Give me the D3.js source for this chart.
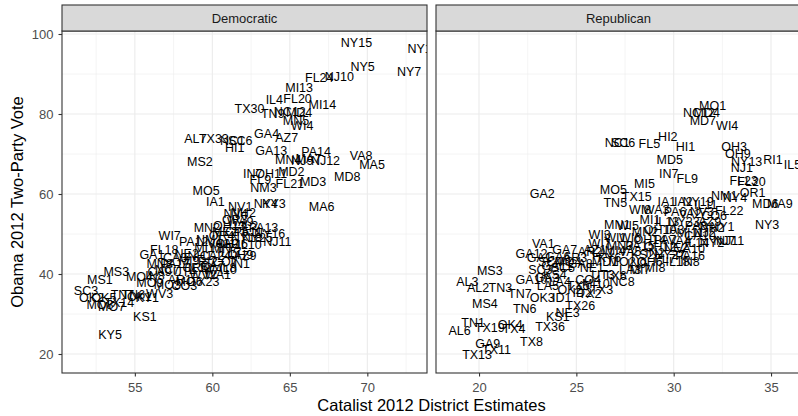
<!DOCTYPE html>
<html>
<head>
<meta charset="utf-8">
<script src="https://cdn.jsdelivr.net/npm/d3@7/dist/d3.min.js"></script>
<style>
  body { margin: 0; background: #fff; }
  text { font-family: "Liberation Sans", Arial, Helvetica, sans-serif; }
</style>
</head>
<body>
<svg id="chart" width="798" height="416"></svg>
<script>
// Facet names and axis ticks
const panelNames = ["Democratic", "Republican"];
const demTicks = [55, 60, 65, 70];
const repTicks = [20, 25, 30, 35];
const yTicks = [20, 40, 60, 80, 100];

// Democratic districts: label, Catalist estimate, Obama two-party vote
const demLabels = ["NY15","NY13","NY5","NY7","FL24","NJ10","MI13","IL4","FL20","MI14","TX30","TN9","NC12","MD4","MN5","WI4","GA4","AZ7","AL7","TX33","NC1","SC6","HI1","GA13","PA14","MS2","MN4","NJ9","MA7","NJ12","VA8","MA5","IN7","OH11","MD2","FL9","FL21","MD3","MD8","NM3","MO5","IA1","NY4","KY3","MA6","NV1","NH2","NV4","OR3","PA13","NY16","NJ11","IL2","WI7","MN2","PA12","NM1","OR4","IA2","NY18","CT5","MN7","GA1","NE2","NH1","CA24","IL17","AZ9","CO7","RI2","MI9","PA17","MN8","IN1","WA10","IL12","NC7","UT4","MS3","MS1","SC3","OK2","TN7","TN6","OK1","KY1","WV3","MO7","MO8","KS1","KY5","MO3","WV2","MO4","IN8","AR1","MO6","OH13","ME2","WA9","PA11","OH16","IL10","NY25","VA11","CA3","OR5","CA7","IL8","CA9","CO3","MO9","TX23","WA1","FL18","OH9","MI1","OK5","TX14"];
const demX = [69.3,73.6,69.7,72.7,66.9,68.2,65.6,64.0,65.5,67.1,62.4,63.9,65.0,65.6,65.4,65.8,63.5,64.8,58.9,60.1,61.3,61.8,61.45,63.8,66.7,59.2,64.9,65.8,66.2,67.3,69.6,70.3,62.6,63.8,65.1,63.1,65.0,66.5,68.7,63.3,59.6,60.2,63.45,63.97,67.05,61.8,62.0,61.5,61.45,63.3,63.7,64.2,62.4,57.25,59.65,58.8,59.8,60.6,61.1,62.2,61.6,60.8,56.1,58.35,59.2,60.2,61.1,62.1,60.8,59.7,58.5,57.6,56.6,61.8,60.5,59.2,57.1,58.2,53.8,52.75,51.85,52.2,54.2,54.9,55.3,55.8,56.6,53.5,52.75,55.65,53.4,57.1,59.4,55.3,56.3,57.9,58.5,61.1,60.8,61.8,62.3,61.25,62.4,62.9,60.6,57.6,58.9,60.0,61.0,56.6,58.2,55.97,59.5,60.35,56.9,61.8,59.5,53.0,54.0];
const demY = [97.8,96.3,91.8,90.5,89.0,89.3,86.7,83.7,83.8,82.3,81.3,80.0,80.5,80.3,78.3,77.0,75.2,74.2,73.75,73.75,73.25,73.25,71.5,70.75,70.5,68.0,68.5,68.25,68.75,68.25,69.5,67.25,65.0,65.0,65.5,63.5,62.5,63.0,64.25,61.5,60.75,58.0,57.5,57.5,56.8,56.75,55.25,55.0,53.5,51.5,50.0,48.0,52.0,49.5,51.5,48.0,48.5,49.5,47.5,49.0,50.5,46.25,44.75,45.0,44.5,44.5,45.25,44.5,43.0,43.0,43.25,42.5,42.5,42.5,41.0,41.5,41.0,40.5,40.5,38.5,35.75,34.0,34.75,34.75,34.25,34.0,35.0,31.75,32.25,29.25,24.75,37.25,39.75,39.25,39.5,38.5,38.0,52.0,50.5,53.0,50.5,47.5,47.25,49.0,47.5,44.0,41.5,42.0,41.5,40.5,37.0,37.75,38.0,39.75,46.0,44.75,46.5,34.0,32.75];

// Republican districts
const repLabels = ["MO1","NC12","MD4","MD7","WI4","HI2","HI1","FL5","NC1","SC6","OH3","OH9","NY13","NJ1","RI1","IL5","MD5","IN7","FL9","MI5","MO5","TN5","TX15","FL23","FL20","OR1","NM1","NY4","MD6","MA9","FL22","NY3","AZ9","NY1","NJ7","NJ11","IA1","IA2","NY19","IL11","MN1","WI3","KS2","GA2","VA1","GA12","GA1","AR2","MS3","AL3","AL2","TN3","MS4","TN7","TN6","OK3","SC3","ID1","ID2","TX3","TX26","KS1","NE3","TX36","TX8","TN1","AL6","TX19","OK4","TX4","GA9","TX11","TX13","GA10","WI8","WA3","PA6","VA2","NV3","CO6","MI1","IL13","NY23","PA8","MN2","OH10","IA3","MI11","NJ2","WI1","WI6","OH14","PA7","VA4","IL14","NY2","WI7","MN3","PA15","OH12","NE2","VA10","MI4","VA5","IN2","NY27","PA16","MD1","MO2","IN9","OH6","FL7","SC5","GA8","NE1","UT3","CO4","TX6","LA3","NC8","TX5","MI10","KS4","MO4","SC4","GA11","AR3","GA6","LA1","GA3","LA4","KY6","AZ1","MI7","MI8","OK2","TX2","LA5","GA7","IL18","CA10","NH2","IN8","WI5"];
const repX = [32.0,31.3,31.7,31.5,32.75,29.7,30.6,28.75,27.1,27.4,33.1,33.3,33.75,33.5,35.1,36.1,29.8,29.75,30.7,28.5,26.9,27.0,28.1,33.6,34.0,34.05,32.6,33.15,34.7,35.45,32.85,34.8,31.85,32.5,32.6,32.9,29.65,30.5,31.25,31.65,27.1,26.2,28.4,23.25,23.3,22.7,23.1,25.7,20.55,19.4,19.95,21.1,20.3,22.1,22.35,23.25,23.15,24.25,25.3,26.3,25.2,24.05,24.55,23.65,22.7,19.7,19.0,20.55,21.6,21.8,20.45,20.9,19.9,22.7,28.27,29.1,30.07,30.84,31.45,32.07,28.78,29.66,30.53,31.15,28.53,29.3,30.07,30.84,31.6,27.0,27.76,28.78,29.55,30.3,31.2,31.97,26.2,27.24,28.27,29.3,30.12,30.84,27.0,27.76,29.04,29.8,30.84,26.47,27.35,28.1,28.78,29.55,24.3,25.2,25.8,26.37,25.6,27.0,27.76,27.35,25.1,26.0,23.9,24.57,23.65,24.0,24.93,24.05,26.37,23.5,24.15,26.7,25.96,28.27,29.04,24.67,25.7,23.54,24.4,30.2,31.35,31.97,30.84,27.65];
const repY = [82,80.25,80.25,78.25,77,74.25,71.75,72.5,72.75,72.75,71.75,70,68,66.5,68.5,67.25,68.5,65,63.75,62.5,61,57.75,59.25,63.25,63,60.25,59.5,59,57.5,57.5,55.75,52.25,53,51.75,48.25,48.25,58,58,58,57.25,52.25,49.75,44.75,60,47.5,45,44,45.5,40.75,38,36.5,36.5,32.5,35,31.25,34,41,34,35.25,36,32,29.25,30.25,26.75,23,27.75,25.75,26.5,27.25,26.25,22.5,21,19.75,38.5,56,56,55.5,55,55.5,54.5,53.5,53,53,52,50.5,51,51,50.25,50.25,49,49,48.5,48.5,48.25,47.75,47.75,47.5,47,47,46.75,46.5,46.25,45.75,45.5,45.25,44.75,44.5,43,43,42.5,43,43.75,41.5,42.5,41.5,39.75,38.5,39.5,41,38,37,37.5,39.75,43,43,42,44,44.25,45.25,39,38,44,46,41,41.5,36,35,37,46,43,49.5,51.5,43,52];

// Layout
const width = 798, height = 416;
const stripTop = 5, panelTop = 31, panelBottom = 373;
const gridColor = "#ebebeb", borderColor = "#333333", tickText = "#4d4d4d";

const $svg = d3.select("#chart");
$svg.append("rect").attr("width", width).attr("height", height).attr("fill", "#fff");

const y = d3.scaleLinear()
    .domain([15.25, 100.75])
    .range([panelBottom, panelTop]);

const minorsOf = (ticks, domain) => {
    const step = ticks[1] - ticks[0];
    return [ticks[0] - step / 2, ...ticks.map(t => t + step / 2)]
        .filter(v => v > domain[0] && v < domain[1]);
};

const panels = [
    { name: panelNames[0], left: 62, right: 427, domain: [50.3, 73.85], ticks: demTicks,
      labels: demLabels, xs: demX, ys: demY },
    { name: panelNames[1], left: 436, right: 801, domain: [17.79, 36.54], ticks: repTicks,
      labels: repLabels, xs: repX, ys: repY },
];

const drawPanel = (p, i) => {
    const x = d3.scaleLinear().domain(p.domain).range([p.left, p.right]);
    const $g = $svg.append("g").attr("class", "panel-" + i);

    // Grid
    const $grid = $g.append("g");
    $grid.selectAll(".ymin").data(minorsOf(yTicks, y.domain())).join("line")
        .attr("x1", p.left).attr("x2", p.right)
        .attr("y1", d => y(d)).attr("y2", d => y(d))
        .attr("stroke", gridColor).attr("stroke-width", 0.55);
    $grid.selectAll(".xmin").data(minorsOf(p.ticks, p.domain)).join("line")
        .attr("y1", panelTop).attr("y2", panelBottom)
        .attr("x1", d => x(d)).attr("x2", d => x(d))
        .attr("stroke", gridColor).attr("stroke-width", 0.55);
    $grid.selectAll(".ymaj").data(yTicks).join("line")
        .attr("x1", p.left).attr("x2", p.right)
        .attr("y1", d => y(d)).attr("y2", d => y(d))
        .attr("stroke", gridColor).attr("stroke-width", 1.1);
    $grid.selectAll(".xmaj").data(p.ticks).join("line")
        .attr("y1", panelTop).attr("y2", panelBottom)
        .attr("x1", d => x(d)).attr("x2", d => x(d))
        .attr("stroke", gridColor).attr("stroke-width", 1.1);

    // Labels, clipped to the panel
    const clipId = "clip-" + i;
    $svg.append("clipPath").attr("id", clipId).append("rect")
        .attr("x", p.left).attr("y", panelTop)
        .attr("width", p.right - p.left).attr("height", panelBottom - panelTop);
    $g.append("g").attr("clip-path", `url(#${clipId})`)
      .selectAll("text")
      .data(p.labels.map((l, k) => ({ label: l, x: p.xs[k], y: p.ys[k] })))
      .join("text")
        .attr("x", d => x(d.x))
        .attr("y", d => y(d.y))
        .attr("dy", "0.35em")
        .attr("text-anchor", "middle")
        .attr("font-size", 12.5)
        .attr("fill", "#000")
        .text(d => d.label);

    // Border
    $g.append("rect")
        .attr("x", p.left).attr("y", panelTop)
        .attr("width", p.right - p.left).attr("height", panelBottom - panelTop)
        .attr("fill", "none").attr("stroke", borderColor).attr("stroke-width", 1.1);

    // Strip
    $g.append("rect")
        .attr("x", p.left).attr("y", stripTop)
        .attr("width", p.right - p.left).attr("height", panelTop - stripTop)
        .attr("fill", "#d9d9d9").attr("stroke", borderColor).attr("stroke-width", 1.1);
    $g.append("text")
        .attr("x", (p.left + p.right) / 2)
        .attr("y", (stripTop + panelTop) / 2)
        .attr("dy", "0.35em")
        .attr("text-anchor", "middle")
        .attr("font-size", 13)
        .attr("fill", "#1a1a1a")
        .text(p.name);

    // X axis
    const $xAxis = $g.append("g")
        .attr("transform", `translate(0,${panelBottom})`)
        .call(d3.axisBottom(x).tickValues(p.ticks).tickSize(3.5).tickPadding(6));
    styleAxis($xAxis);

    // Y axis only on the first panel
    if (i === 0) {
        const $yAxis = $g.append("g")
            .attr("transform", `translate(${p.left},0)`)
            .call(d3.axisLeft(y).tickValues(yTicks).tickSize(3.5).tickPadding(5));
        styleAxis($yAxis);
    }
};

function styleAxis(sel) {
    sel.select(".domain").remove();
    sel.selectAll(".tick line").attr("stroke", borderColor).attr("stroke-width", 1.1);
    sel.selectAll(".tick text")
        .attr("fill", tickText)
        .attr("font-size", 13)
        .attr("font-family", '"Liberation Sans", Arial, Helvetica, sans-serif');
}

panels.forEach(drawPanel);

// Axis titles
$svg.append("text")
    .attr("x", (62 + 801) / 2)
    .attr("y", 411)
    .attr("text-anchor", "middle")
    .attr("font-size", 16.5)
    .attr("fill", "#000")
    .text("Catalist 2012 District Estimates");

$svg.append("text")
    .attr("transform", `translate(23,${(panelTop + panelBottom) / 2}) rotate(-90)`)
    .attr("text-anchor", "middle")
    .attr("font-size", 16.5)
    .attr("fill", "#000")
    .text("Obama 2012 Two-Party Vote");
</script>
</body>
</html>
